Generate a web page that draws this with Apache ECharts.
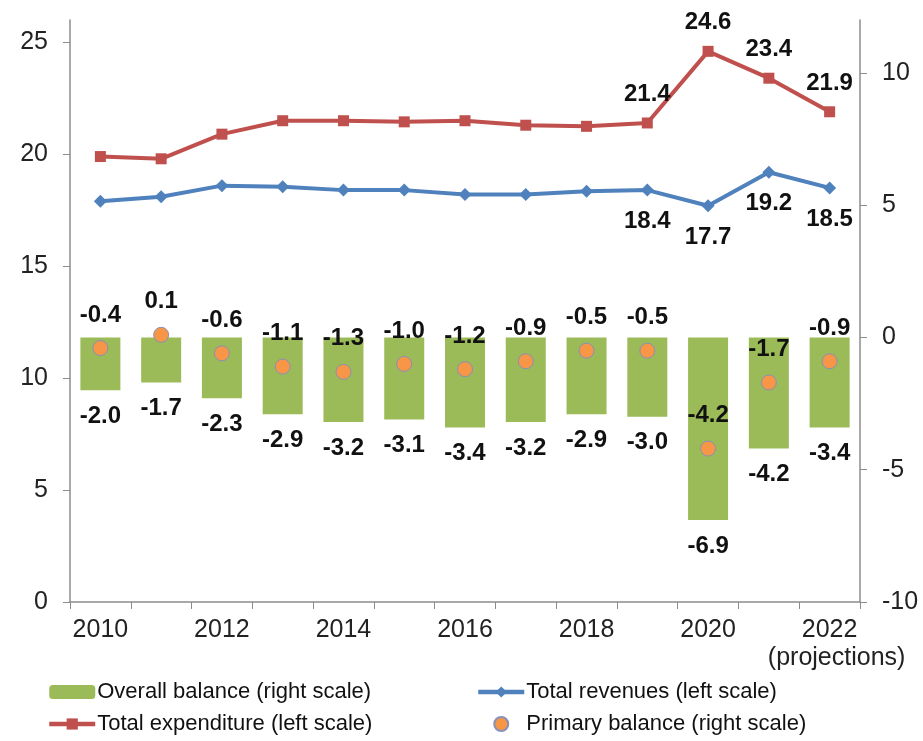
<!DOCTYPE html>
<html>
<head>
<meta charset="utf-8">
<script src="https://cdn.jsdelivr.net/npm/echarts@6/dist/echarts.min.js"></script>
<style>
  html, body { margin: 0; padding: 0; background: #fff; }
  #chart { width: 923px; height: 741px; }
</style>
</head>
<body>
<div id="chart"></div>
<script>
var years = ["2010", "2011", "2012", "2013", "2014", "2015", "2016", "2017", "2018", "2019", "2020", "2021", "2022"];
var overallBalance = [-2.0, -1.7, -2.3, -2.9, -3.2, -3.1, -3.4, -3.2, -2.9, -3.0, -6.9, -4.2, -3.4];
var primaryBalance = [-0.4, 0.1, -0.6, -1.1, -1.3, -1.0, -1.2, -0.9, -0.5, -0.5, -4.2, -1.7, -0.9];
var totalRevenues = [17.9, 18.1, 18.6, 18.55, 18.4, 18.4, 18.2, 18.2, 18.35, 18.4, 17.7, 19.2, 18.5];
var totalExpenditure = [19.9, 19.8, 20.9, 21.5, 21.5, 21.45, 21.5, 21.3, 21.25, 21.4, 24.6, 23.4, 21.9];
var leftTicks = [0, 5, 10, 15, 20, 25];
var rightTicks = [-10, -5, 0, 5, 10];

var chart = echarts.init(document.getElementById("chart"));

var font = "Liberation Sans, Arial, sans-serif";
var axisGray = "#8c8c8c";
var labelStyle = { fontFamily: font, fontSize: 24, fontWeight: "bold", color: "#111" };

// only the last four years get a value label on the lines
function lastYears(p) {
    return p.dataIndex >= 9 ? p.value.toFixed(1) : "";
}

var option = {
    animation: false,
    grid: { left: 70, right: 63, top: 20, bottom: 139 },
    xAxis: {
        type: "category",
        data: years,
        axisLine: { lineStyle: { color: axisGray, width: 1.5 } },
        axisTick: { show: true, length: 7, interval: 0, lineStyle: { color: axisGray } },
        axisLabel: {
            interval: 1,
            margin: 14,
            fontFamily: font,
            fontSize: 25,
            color: "#222",
            lineHeight: 28,
            formatter: function (v) {
                return v === "2022" ? "2022\n{p|(projections)}" : v;
            },
            rich: {
                p: { fontFamily: font, fontSize: 25, color: "#222", lineHeight: 28, padding: [0, 0, 0, 14] }
            }
        }
    },
    yAxis: [
        {
            type: "value",
            min: 0,
            max: 26,
            interval: 5,
            splitLine: { show: false },
            axisLine: { show: true, lineStyle: { color: axisGray, width: 1.5 } },
            axisTick: { show: true, length: 7, customValues: leftTicks, lineStyle: { color: axisGray } },
            axisLabel: { customValues: leftTicks, margin: 22, fontFamily: font, fontSize: 25, color: "#222" }
        },
        {
            type: "value",
            min: -10,
            max: 12,
            interval: 5,
            splitLine: { show: false },
            axisLine: { show: true, lineStyle: { color: axisGray, width: 1.5 } },
            axisTick: { show: true, length: 7, customValues: rightTicks, lineStyle: { color: axisGray } },
            axisLabel: { customValues: rightTicks, margin: 22, fontFamily: font, fontSize: 25, color: "#222" }
        }
    ],
    legend: [
        {
            orient: "vertical",
            left: 42,
            top: 676,
            itemWidth: 46,
            itemHeight: 14,
            itemGap: 10,
            lineStyle: { width: 4.5 },
            textStyle: { fontFamily: font, fontSize: 22, color: "#111", padding: [0, 0, 0, -3] },
            data: ["Overall balance (right scale)", "Total expenditure (left scale)"]
        },
        {
            orient: "vertical",
            left: 471,
            top: 676,
            itemWidth: 46,
            itemHeight: 14,
            itemGap: 10,
            lineStyle: { width: 4.5 },
            textStyle: { fontFamily: font, fontSize: 22, color: "#111", padding: [0, 0, 0, -3] },
            data: ["Total revenues (left scale)", "Primary balance (right scale)"]
        }
    ],
    series: [
        {
            name: "Overall balance (right scale)",
            type: "bar",
            yAxisIndex: 1,
            barWidth: 40,
            data: overallBalance,
            itemStyle: { color: "#9BBB59" },
            label: {
                show: true,
                position: "bottom",
                distance: 14,
                formatter: function (p) { return p.value.toFixed(1); },
                ...labelStyle
            }
        },
        {
            name: "Total expenditure (left scale)",
            type: "line",
            yAxisIndex: 0,
            data: totalExpenditure,
            symbol: "rect",
            symbolSize: 11,
            lineStyle: { color: "#C0504D", width: 4 },
            itemStyle: { color: "#C0504D" },
            label: { show: true, position: "top", distance: 11, formatter: lastYears, ...labelStyle }
        },
        {
            name: "Total revenues (left scale)",
            type: "line",
            yAxisIndex: 0,
            data: totalRevenues,
            symbol: "diamond",
            symbolSize: 13,
            lineStyle: { color: "#4F81BD", width: 4 },
            itemStyle: { color: "#4F81BD" },
            label: { show: true, position: "bottom", distance: 13, formatter: lastYears, ...labelStyle }
        },
        {
            name: "Primary balance (right scale)",
            type: "scatter",
            yAxisIndex: 1,
            data: primaryBalance,
            symbol: "circle",
            symbolSize: 15,
            itemStyle: { color: "#F79646", borderColor: "#8A8FB8", borderWidth: 1, opacity: 1 },
            label: {
                show: true,
                position: "top",
                distance: 13,
                opacity: 1,
                formatter: function (p) { return Number(primaryBalance[p.dataIndex]).toFixed(1); },
                ...labelStyle
            }
        }
    ]
};

chart.setOption(option);
</script>
</body>
</html>
